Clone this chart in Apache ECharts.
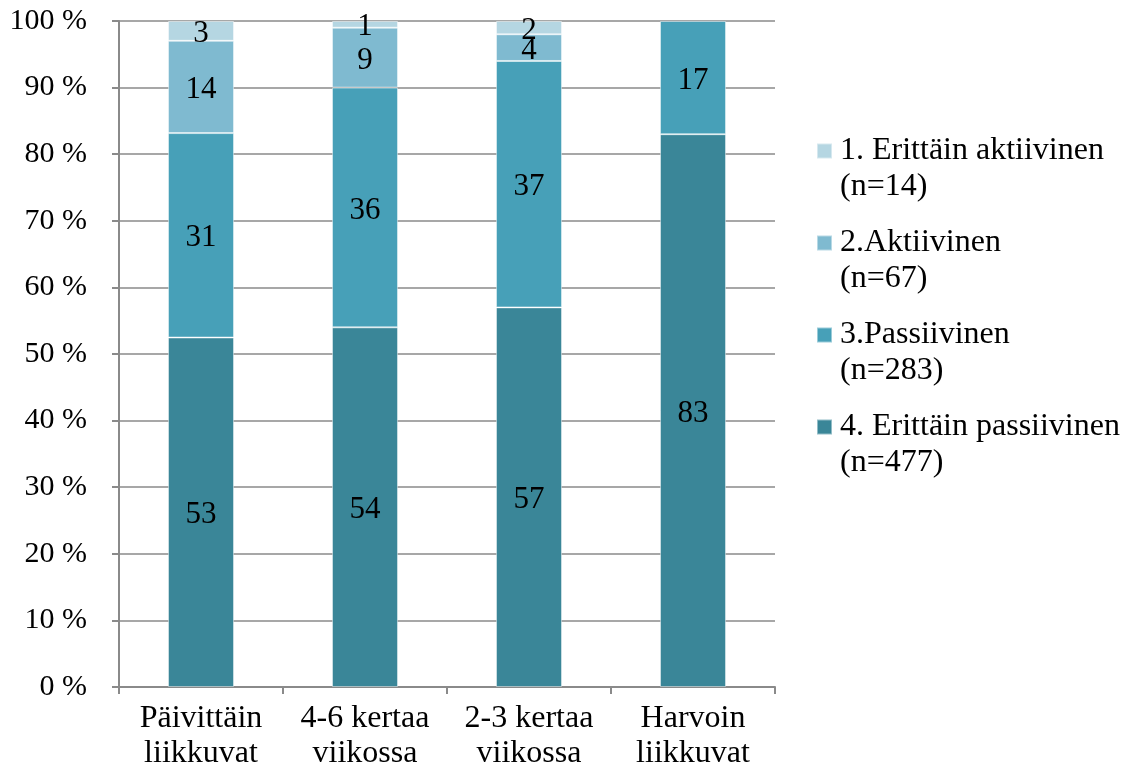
<!DOCTYPE html>
<html>
<head>
<meta charset="utf-8">
<script src="https://cdn.jsdelivr.net/npm/echarts@6/dist/echarts.min.js"></script>
<style>
  html, body { margin: 0; padding: 0; background: #fff; }
  #chart { width: 1130px; height: 774px; }
</style>
</head>
<body>
<div id="chart"></div>
<script>
// Liikkumisryhmät (x-akseli)
const categories = ['Päivittäin\nliikkuvat', '4-6 kertaa\nviikossa', '2-3 kertaa\nviikossa', 'Harvoin\nliikkuvat'];

// Aktiivisuusluokkien osuudet (%) ryhmittäin
const erittainPassiivinen = [53, 54, 57, 83];
const passiivinen = [31, 36, 37, 17];
const aktiivinen = [14, 9, 4, null];
const erittainAktiivinen = [3, 1, 2, null];

const seriesNames = [
  '4. Erittäin passiivinen\n(n=477)',
  '3.Passiivinen\n(n=283)',
  '2.Aktiivinen\n(n=67)',
  '1. Erittäin aktiivinen\n(n=14)'
];
const seriesValues = [erittainPassiivinen, passiivinen, aktiivinen, erittainAktiivinen];
const colors = ['#3A8698', '#47A0B8', '#7FBAD0', '#B5D6E2'];

const yTicks = [0, 100, 10];

// Kunkin pylvään summa, jotta pinot skaalautuvat 100 %:iin
const totals = categories.map((_, i) =>
  seriesValues.reduce((s, arr) => s + (arr[i] || 0), 0));

const font = 'Liberation Serif, Times New Roman, serif';

const series = seriesValues.map((vals, k) => ({
  name: seriesNames[k],
  type: 'bar',
  stack: 'total',
  barWidth: 66,
  itemStyle: { color: colors[k], borderColor: 'rgba(255,255,255,0.45)', borderWidth: 1 },
  label: {
    show: true,
    position: 'inside',
    offset: [0, 3],
    color: '#000',
    fontFamily: font,
    fontSize: 31,
    formatter: p => vals[p.dataIndex]
  },
  data: vals.map((v, i) => v == null ? null : v / totals[i] * 100)
}));

const chart = echarts.init(document.getElementById('chart'));
chart.setOption({
  animation: false,
  backgroundColor: '#fff',
  color: colors,
  grid: { left: 119, right: 355, top: 21, bottom: 87 },
  xAxis: {
    type: 'category',
    data: categories,
    axisLine: { lineStyle: { color: '#8a8a8a', width: 2 } },
    axisTick: { show: true, interval: 0, alignWithLabel: false, length: 7, lineStyle: { color: '#8a8a8a', width: 2 } },
    axisLabel: { interval: 0, color: '#000', fontFamily: font, fontSize: 32, lineHeight: 35, margin: 14 }
  },
  yAxis: {
    type: 'value',
    min: yTicks[0],
    max: yTicks[1],
    interval: yTicks[2],
    axisLine: { show: true, lineStyle: { color: '#8a8a8a', width: 2 } },
    axisTick: { show: true, length: 7, lineStyle: { color: '#8a8a8a', width: 2 } },
    splitLine: { show: true, lineStyle: { color: '#8a8a8a', width: 1.5 } },
    axisLabel: { color: '#000', fontFamily: font, fontSize: 30, margin: 32, formatter: '{value} %' }
  },
  legend: {
    orient: 'vertical',
    left: 811,
    top: 92,
    data: seriesNames.slice().reverse(),
    itemWidth: 15,
    itemHeight: 15,
    itemGap: -16,
    icon: 'rect',
    // tyhjä rivi alussa, jotta merkki osuu nimen ensimmäiselle riville
    formatter: name => '\n' + name,
    textStyle: {
      color: '#000',
      fontFamily: font,
      fontSize: 32,
      lineHeight: 36,
      padding: [0, 0, 0, 3]
    }
  },
  series: series
});
</script>
</body>
</html>
